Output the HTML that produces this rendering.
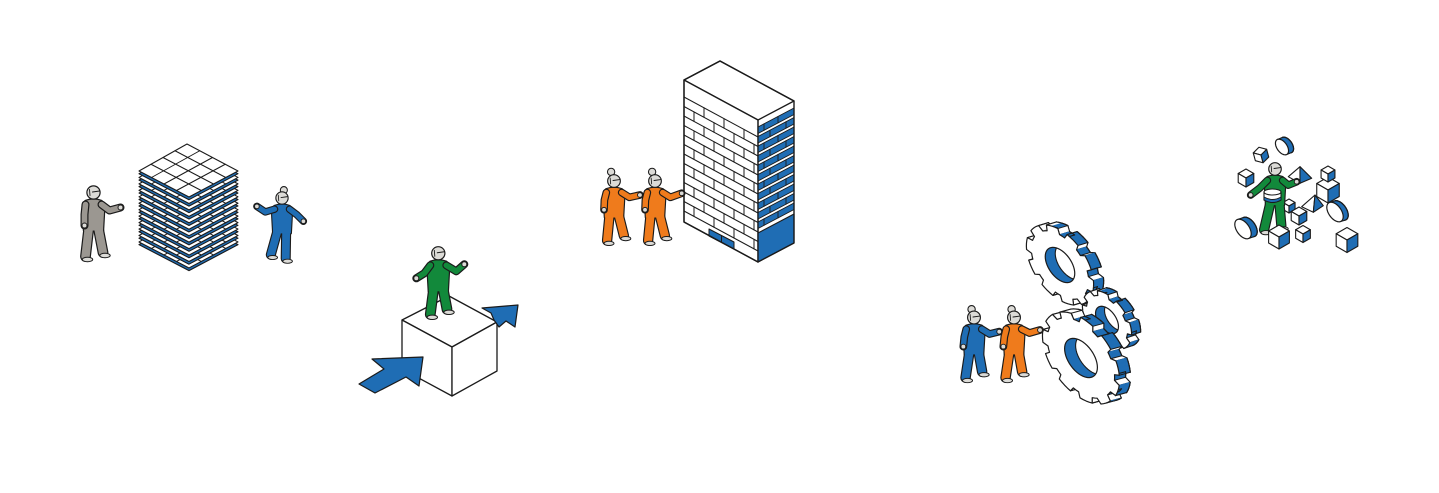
<!DOCTYPE html>
<html><head><meta charset="utf-8">
<style>html,body{margin:0;padding:0;background:#fff;overflow:hidden}svg{display:block}</style>
</head>
<body>
<svg id="s" xmlns="http://www.w3.org/2000/svg" width="1439" height="493" viewBox="0 0 1439 493">
<defs id="d"></defs>
<rect width="1439" height="493" fill="#fff"/>
</svg>
<script>
const NS='http://www.w3.org/2000/svg', svg=document.getElementById('s'), defs=document.getElementById('d');
const K='#1b1b1b', BL='#1f6db4', OR='#ef7b1c', GR='#12893b', GY='#9b9791', SK='#dcdbd7';
let cid=0;
function el(t,a,p){const e=document.createElementNS(NS,t);for(const k in a)e.setAttribute(k,a[k]);(p||svg).appendChild(e);return e;}
const pt=a=>a.map(p=>p[0].toFixed(2)+','+p[1].toFixed(2)).join(' ');
function poly(a,fill,p,sw){return el('polygon',{points:pt(a),fill:fill,stroke:K,'stroke-width':sw||1.2,'stroke-linejoin':'round'},p);}
function line(a,b,p,sw,col){return el('line',{x1:a[0],y1:a[1],x2:b[0],y2:b[1],stroke:col||K,'stroke-width':sw||1.1,'stroke-linecap':'round'},p);}

/* ---------- layer stack ---------- */
(function(){
 const T=[187,144],R=[238,171],B=[189,197],L=[139,171];
 const off=(P,d)=>P.map(p=>[p[0],p[1]+d]);
 const lerp=(a,b,t)=>[a[0]+(b[0]-a[0])*t,a[1]+(b[1]-a[1])*t];
 for(let i=11;i>=0;i--){
  const d=i*6.45;
  poly(off([T,R,B,L],d+2.7),BL,null,1.1);
  const D=off([T,R,B,L],d);
  poly(D,'#fff',null,1.1);
  const [t,r,b,l]=D;
  for(let k=1;k<4;k++){line(lerp(t,l,k/4),lerp(r,b,k/4),null,1);line(lerp(t,r,k/4),lerp(l,b,k/4),null,1);}
 }
})();

/* ---------- cube with arrows ---------- */
poly([[402,320],[449,296],[497,322],[452,347]],'#fff',null,1.3);
poly([[402,320],[452,347],[452,396],[402,369]],'#fff',null,1.3);
poly([[452,347],[497,322],[497,371],[452,396]],'#fff',null,1.3);
poly([[359,384],[384,369],[372,359],[423,357],[419,386],[406,377],[375,393]],BL,null,1.2);
poly([[491,313],[482,308],[518,305],[515,327],[506,321],[499,327],[494,320]],BL,null,1.2);

/* ---------- building ---------- */
(function(){
 poly([[684,80],[720,61],[794,101],[758,120]],'#fff',null,1.3);
 poly([[684,80],[758,120],[758,262],[684,222]],'#fff',null,1.3);
 const sl=40/74, yl=(x,y0)=>y0+(x-684)*sl;
 for(let k=0;k<13;k++){
  const y0=97+9.5*k;
  line([684,y0],[758,yl(758,y0)],null,1);
  if(k<12){
   const st=(k%2)?10:20;
   for(let x=684+st;x<756;x+=20){line([x,yl(x,y0)],[x,yl(x,y0)+9.5],null,1);}
  }
 }
 const sr=-19/36, yr=(x,y0)=>y0+(x-758)*sr;
 for(let k=0;k<11;k++){
  const y0=127+9.5*k;
  poly([[758,y0],[794,yr(794,y0)],[794,yr(794,y0)+6.5],[758,y0+6.5]],BL,null,0.9);
  const xs=(k%2)?[770,786]:[764,778];
  for(const x of xs){line([x,yr(x,y0)],[x,yr(x,y0)+6.5],null,0.9);}
 }
 poly([[758,233],[794,yr(794,233)],[794,243],[758,262]],BL,null,1.1);
 poly([[709,229],[734,242],[734,249],[709,236]],BL,null,1);
 line([721.5,235.5],[721.5,242.5],null,1);
 el('polygon',{points:pt([[684,80],[720,61],[794,101],[794,243],[758,262],[684,222]]),fill:'none',stroke:K,'stroke-width':1.4,'stroke-linejoin':'round'});
 line([758,120],[758,262],null,1.3);
})();

/* ---------- gears / cylinders ---------- */
function gear(o){
 const u=o.u||[0.82,0.47], v=o.v||[0,0.86], e=o.e;
 const P=(a,r)=>{const x=r*Math.cos(a),y=r*Math.sin(a);return [o.cx+x*u[0]+y*v[0],o.cy+x*u[1]+y*v[1]];};
 const S=[],T=[];
 if(o.N){
  const p=2*Math.PI/o.N;
  for(let i=0;i<o.N;i++){
   const t0=(o.ph||0)+i*p;
   for(let k=0;k<2;k++){S.push(P(t0+k*0.14*p,o.r));T.push('a');}
   S.push(P(t0+0.28*p,o.r));T.push('w');
   for(let k=0;k<4;k++){S.push(P(t0+0.36*p+k*0.14*p,o.R));T.push('a');}
   S.push(P(t0+0.92*p,o.R));T.push('w');
  }
 } else {
  for(let i=0;i<40;i++){S.push(P(i*Math.PI*2/40,o.R));T.push('a');}
 }
 const n=S.length;
 let area=0;for(let i=0;i<n;i++){const a=S[i],b=S[(i+1)%n];area+=a[0]*b[1]-b[0]*a[1];}
 const Bk=S.map(q=>[q[0]+e[0],q[1]+e[1]]);
 const vis=[],nrm=[];
 for(let i=0;i<n;i++){const a=S[i],b=S[(i+1)%n];const dx=b[0]-a[0],dy=b[1]-a[1];
  let nx=area>0?dy:-dy, ny=area>0?-dx:dx; const l=Math.hypot(nx,ny)||1; nx/=l; ny/=l;
  nrm.push([nx,ny]); vis.push(nx*e[0]+ny*e[1]>0);}
 const g=el('g',{});
 poly(Bk,BL,g,1.2);
 for(let i=0;i<n;i++){ if(!vis[i])continue; const j=(i+1)%n; const q=[S[i],S[j],Bk[j],Bk[i]];
  if(T[i]==='a'){ const blue = o.N ? (nrm[i][0]>0.3) : true;
    el('polygon',{points:pt(q),fill:blue?BL:'#fff',stroke:blue?BL:'#fff','stroke-width':0.8},g);}
  else el('polygon',{points:pt(q),fill:'#fff',stroke:K,'stroke-width':1,'stroke-linejoin':'round'},g);
 }
 for(let i=0;i<n;i++){ if(vis[i]&&T[i]==='a') line(Bk[i],Bk[(i+1)%n],g,1.2);}
 for(let i=0;i<n;i++){ const pv=vis[(i-1+n)%n]; if(pv!==vis[i]) line(S[i],Bk[i],g,1.1);}
 poly(S,'#fff',g,1.2);
 if(o.hr){
  const H=[];for(let i=0;i<48;i++)H.push(P(i*Math.PI*2/48,o.hr));
  const id='c'+(cid++);
  const cp=el('clipPath',{id:id},defs);
  el('polygon',{points:pt(H)},cp);
  el('polygon',{points:pt(H),fill:BL,stroke:'none'},g);
  el('polygon',{points:pt(H.map(q=>[q[0]+e[0],q[1]+e[1]])),fill:'#fff',stroke:K,'stroke-width':1.1,'clip-path':'url(#'+id+')'},g);
  el('polygon',{points:pt(H),fill:'none',stroke:K,'stroke-width':1.2},g);
 }
}
gear({cx:1060,cy:265,R:41,r:35,N:10,hr:18,e:[10,-3],ph:0.3});
gear({cx:1107,cy:320,R:30,r:25,N:8,hr:14,e:[9,-3],ph:0.1});
gear({cx:1081,cy:358,R:47,r:41,N:11,hr:20,e:[11,-3],ph:0.5});

/* ---------- people ---------- */
function person(o){
 const s=o.s||1;
 const g=el('g',{transform:'translate('+o.x+','+o.y+') scale('+s+')'});
 const torso='M-8,8.5 Q0,5.5 8,8.5 Q11,11 10.5,20 L9.5,38 L-9.5,38 L-10.5,20 Q-11,11 -8,8.5 Z';
 const lfE=[o.lf[0],o.lf[1]-2], rfE=[o.rf[0],o.rf[1]-2];
 const legL='M-4.5,34 L'+lfE, legR='M4.5,34 L'+rfE;
 const armL='M-8,12 L'+o.la[0]+' L'+o.la[1], armR='M8,12 L'+o.ra[0]+' L'+o.ra[1];
 const sp=(d,c,w)=>el('path',{d:d,fill:'none',stroke:c,'stroke-width':w,'stroke-linecap':'round','stroke-linejoin':'round'},g);
 if(o.bun) el('circle',{cx:o.bun[0],cy:o.bun[1],r:3.8,fill:SK,stroke:K,'stroke-width':1.1},g);
 sp(legL,K,10.8);sp(legR,K,10.8);
 el('path',{d:torso,fill:K,stroke:K,'stroke-width':2.4,'stroke-linejoin':'round'},g);
 sp(legL,o.c,8.4);sp(legR,o.c,8.4);
 el('path',{d:torso,fill:o.c},g);
 sp(armL,K,8);sp(armR,K,8);
 sp(armL,o.c,5.6);sp(armR,o.c,5.6);
 for(const f of [o.lf,o.rf]) el('ellipse',{cx:f[0]+2,cy:f[1]+1,rx:5.2,ry:2.2,fill:SK,stroke:K,'stroke-width':1},g);
 for(const h of [o.la[1],o.ra[1]]) el('circle',{cx:h[0],cy:h[1],r:2.5,fill:SK,stroke:K,'stroke-width':1},g);
 el('circle',{cx:0,cy:0,r:6.6,fill:SK,stroke:K,'stroke-width':1.2},g);
 sp('M-1,-0.5 L6,-1.5',K,1);
 sp('M-4,-3 L-3.5,3',K,0.9);
 return g;
}
/* gray */
person({x:93.5,y:192.5,c:GY,la:[[-9,22],[-9,33]],ra:[[16,18],[27,15]],lf:[-8,66],rf:[9.5,62]});
/* blue 1 */
person({x:282,y:198,s:0.93,c:BL,bun:[2,-8.5],la:[[-18,15],[-27,9]],ra:[[16,18],[23,25]],lf:[-12,63],rf:[4,67]});
/* green on cube */
person({x:438.3,y:253.3,c:GR,la:[[-14,20],[-22,25]],ra:[[18,18],[26,11]],lf:[-8,63],rf:[8.7,58]});
/* orange pair */
person({x:614,y:181,s:0.96,c:OR,bun:[-3,-9.5],la:[[-10,20],[-10.4,30]],ra:[[16,17],[27,14.6]],lf:[-7.2,64],rf:[10.3,59]});
person({x:655,y:181,s:0.96,c:OR,bun:[-3,-9.5],la:[[-10,20],[-10.4,30]],ra:[[16,17],[27.8,12.8]],lf:[-7.2,64],rf:[10.3,59]});
/* gear scene people */
person({x:974,y:317.5,s:0.97,c:BL,bun:[-2.5,-8.5],la:[[-10,20],[-11,30]],ra:[[16,17],[26,14.6]],lf:[-8.7,64],rf:[8.4,58]});
person({x:1014,y:317.5,s:0.97,c:OR,bun:[-2.5,-8.5],la:[[-10,20],[-11,30]],ra:[[16,16],[26.8,12.9]],lf:[-8.7,64],rf:[8.4,58]});

/* ---------- blocks scene ---------- */
function cube(cx,cy,s,rot){
 const w=0.866*s,h=0.5*s,F=[cx,cy];
 const g=el('g',rot?{transform:'rotate('+rot+' '+cx+' '+cy+')'}:{});
 poly([F,[cx+w,cy-h],[cx,cy-2*h],[cx-w,cy-h]],'#fff',g,1.1);
 poly([F,[cx-w,cy-h],[cx-w,cy-h+s],[cx,cy+s]],'#fff',g,1.1);
 poly([F,[cx+w,cy-h],[cx+w,cy-h+s],[cx,cy+s]],BL,g,1.1);
}
function pyr(A,L,F,R){poly([A,L,F],'#fff',null,1.1);poly([A,F,R],BL,null,1.1);}
cube(1261,155,8,-15);
gear({cx:1282,cy:147,R:8,e:[5,-2]});
cube(1246,178,9);
pyr([1300,166.7],[1288.3,176.7],[1300,183.3],[1311.7,178.3]);
cube(1328,190,13);
cube(1328,174,8);
cube(1289,206,7);
person({x:1275,y:169,s:0.95,c:GR,la:[[-16,20],[-25.6,27.4]],ra:[[14,17],[22.8,13.4]],lf:[-11.5,66],rf:[6.7,62]});
/* drum */
el('path',{d:'M1264,192 L1264,200 Q1272.5,205 1281,200 L1281,192 Z',fill:'#fff',stroke:K,'stroke-width':1.1});
el('path',{d:'M1264,197 Q1272.5,202 1281,197 L1281,200 Q1272.5,205 1264,200 Z',fill:BL,stroke:K,'stroke-width':0.9});
el('ellipse',{cx:1272.5,cy:192,rx:8.5,ry:3,fill:'#fff',stroke:K,'stroke-width':1.1});
pyr([1315,195],[1301.7,206.7],[1313.3,212.3],[1323.3,205.7]);
gear({cx:1335,cy:212,R:10,e:[5,-1.5]});
cube(1299,216,9);
gear({cx:1243,cy:229,R:10,e:[6,-2]});
cube(1279,237,12);
cube(1303,234,8.5);
cube(1347,240,12.5);
</script>
</body></html>
